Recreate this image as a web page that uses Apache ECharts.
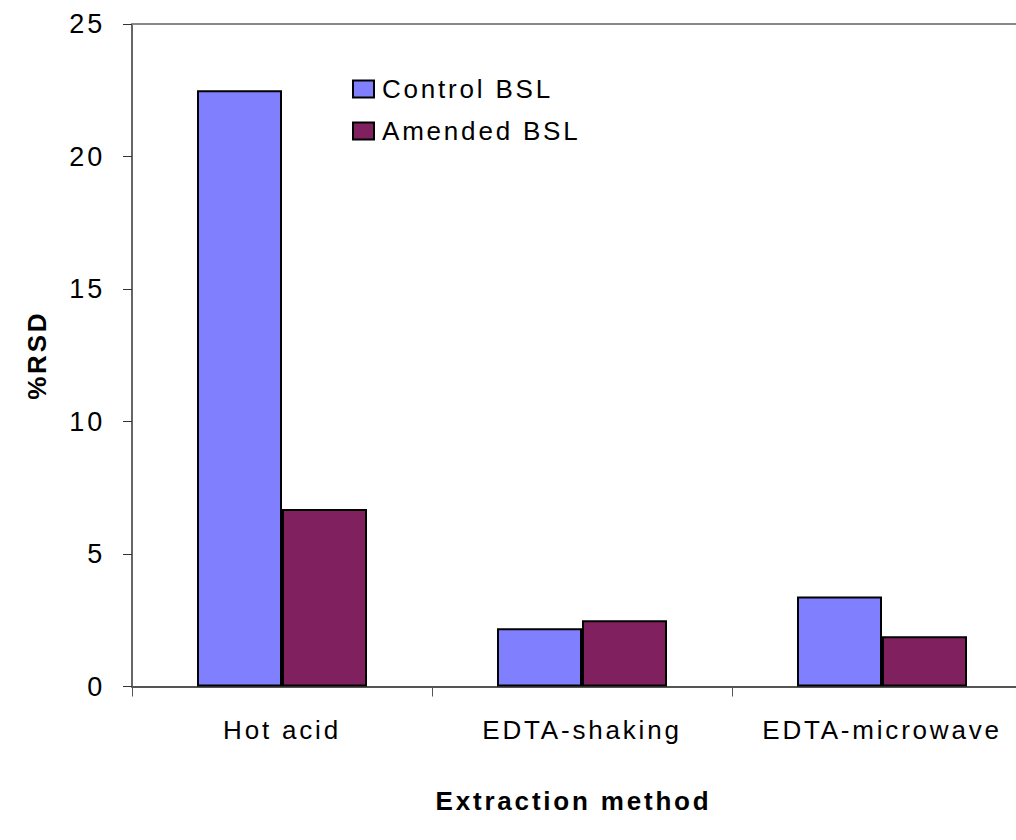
<!DOCTYPE html>
<html>
<head>
<meta charset="utf-8">
<script src="https://cdn.jsdelivr.net/npm/echarts@6/dist/echarts.min.js"></script>
<style>
  html, body { margin: 0; padding: 0; background: #fff; }
  #chart { width: 1016px; height: 840px; overflow: hidden; }
  #chart svg text { letter-spacing: 2.8px; }
</style>
</head>
<body>
<div id="chart"></div>
<script>
const categories = ['Hot acid', 'EDTA-shaking', 'EDTA-microwave'];
const controlBSL = [22.5, 2.2, 3.4];
const amendedBSL = [6.7, 2.5, 1.9];
const seriesNames = ['Control BSL', 'Amended BSL'];
const yTicks = { min: 0, max: 25, interval: 5 };
const xTitle = 'Extraction method';
const yTitle = '%RSD';

const FONT = "'Liberation Sans', Arial, Helvetica, sans-serif";
const chart = echarts.init(document.getElementById('chart'), null, { renderer: 'svg' });

chart.setOption({
  backgroundColor: '#ffffff',
  animation: false,
  textStyle: { fontFamily: FONT, color: '#000' },
  grid: { left: 132, width: 900, top: 24, bottom: 153.5, containLabel: false, outerBoundsMode: 'none' },
  legend: {
    orient: 'vertical',
    left: 347,
    top: 71,
    itemWidth: 21,
    itemHeight: 17,
    itemGap: 16,
    icon: 'rect',
    data: seriesNames,
    textStyle: { fontFamily: FONT, fontSize: 26, color: '#000', padding: [0, 0, 0, 3] }
  },
  xAxis: [{
    type: 'category',
    data: categories,
    position: 'bottom',
    name: xTitle,
    nameLocation: 'middle',
    nameGap: 101,
    nameTextStyle: { fontFamily: FONT, fontSize: 26, fontWeight: 'bold', color: '#000', padding: [0, 17, 0, 0] },
    axisLine: { show: true, lineStyle: { color: '#555', width: 2 } },
    axisTick: { show: true, alignWithLabel: false, length: 10, lineStyle: { color: '#555', width: 1 } },
    axisLabel: { fontFamily: FONT, fontSize: 26, color: '#000', margin: 30 },
    splitLine: { show: false }
  }, {
    type: 'category',
    data: categories,
    position: 'top',
    axisLine: { show: true, lineStyle: { color: '#888', width: 2 } },
    axisTick: { show: false },
    axisLabel: { show: false },
    splitLine: { show: false }
  }],
  yAxis: {
    type: 'value',
    min: yTicks.min,
    max: yTicks.max,
    interval: yTicks.interval,
    name: yTitle,
    nameLocation: 'middle',
    nameGap: 82,
    nameRotate: 90,
    nameTextStyle: { fontFamily: FONT, fontSize: 26, fontWeight: 'bold', color: '#000' },
    axisLine: { show: true, lineStyle: { color: '#333', width: 1.5 } },
    axisTick: { show: true, inside: false, length: 9, lineStyle: { color: '#333', width: 1 } },
    axisLabel: { fontFamily: FONT, fontSize: 27, color: '#000', margin: 27 },
    splitLine: { show: false }
  },
  series: [{
    name: seriesNames[0],
    type: 'bar',
    data: controlBSL,
    barWidth: 85,
    barGap: '0%',
    itemStyle: { color: '#8080FF', borderColor: '#000', borderWidth: 2 }
  }, {
    name: seriesNames[1],
    type: 'bar',
    data: amendedBSL,
    barWidth: 85,
    barGap: '0%',
    itemStyle: { color: '#80205F', borderColor: '#000', borderWidth: 2 }
  }]
});
</script>
</body>
</html>
